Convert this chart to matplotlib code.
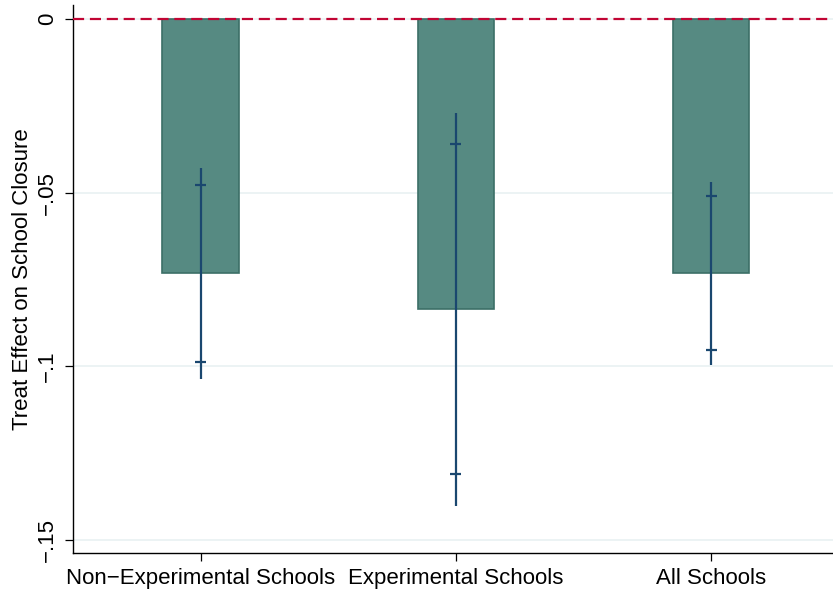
import matplotlib
matplotlib.use("Agg")
import matplotlib.pyplot as plt
import numpy as np

categories = ["Non\u2212Experimental Schools", "Experimental Schools", "All Schools"]
effects = [-0.0732, -0.0835, -0.0732]
ci_low = [-0.1037, -0.1402, -0.0995]
ci_high = [-0.0428, -0.0270, -0.0469]
cap_low = [-0.0987, -0.1310, -0.0954]
cap_high = [-0.0477, -0.0361, -0.0511]
yticks = [0, -0.05, -0.1, -0.15]
yticklabels = ["0", "\u2212.05", "\u2212.1", "\u2212.15"]

plt.rcParams['font.family'] = ['Liberation Sans', 'DejaVu Sans']

fig = plt.figure(figsize=(8.33, 5.89), dpi=100)
ax = fig.add_axes([73/833, 36/589, (838.75-73)/833, 548/589])

x = np.arange(1, len(categories) + 1)
for yv in yticks:
    ax.axhline(yv, color="#eaf2f3", lw=1.3, zorder=0)

ax.bar(x, effects, width=0.3, color="#568a82", edgecolor="#3c6f67", linewidth=1.2, zorder=2)
ax.vlines(x, ci_low, ci_high, color="#1a476f", lw=1.6, zorder=3)
ax.hlines(cap_low, x - 0.0215, x + 0.0215, color="#1a476f", lw=1.6, zorder=3)
ax.hlines(cap_high, x - 0.0215, x + 0.0215, color="#1a476f", lw=1.6, zorder=3)
ax.axhline(0, color="#c10534", lw=1.6, dashes=(5, 2.6), zorder=4)

ax.set_xlim(0.5, 3.5)
ax.set_ylim(-0.1537, 0.004)
ax.set_xticks(x)
ax.set_xticklabels(categories, fontsize=16)
ax.set_yticks(yticks)
ax.set_yticklabels(yticklabels, fontsize=16, rotation=90, va="center")
ax.set_ylabel("Treat Effect on School Closure", fontsize=16, labelpad=3)
ax.tick_params(axis="both", direction="out", length=6, width=0.9, color="black")
ax.tick_params(axis="y", pad=5)
ax.tick_params(axis="x", pad=4.5)
for s in ["top", "right"]:
    ax.spines[s].set_visible(False)
for s in ["left", "bottom"]:
    ax.spines[s].set_linewidth(1.0)
    ax.spines[s].set_color("black")

fig.savefig("out.png", dpi=100)
